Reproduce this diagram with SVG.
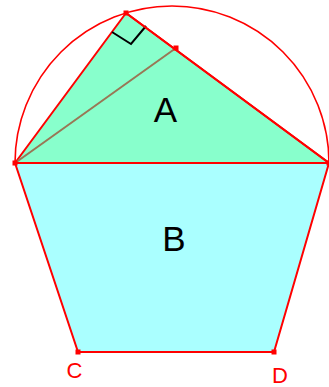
<svg xmlns="http://www.w3.org/2000/svg" width="329" height="387" viewBox="0 0 329 387">
<style>
.edge{stroke:#ff0000;stroke-width:2;fill:none;stroke-linejoin:round}
.fillB{fill:#aaffff;stroke:#ff0000;stroke-width:2;stroke-linejoin:round}
.fillA{fill:#88ffcc;stroke:#ff0000;stroke-width:2;stroke-linejoin:round}
.pt{fill:#ff0000}
.big{font-family:"Liberation Sans",Arial,sans-serif;font-size:35px;fill:#000;text-anchor:middle}
.lbl{font-family:"Liberation Sans",Arial,sans-serif;font-size:22px;fill:#ff0000;text-anchor:middle}
</style>
<g id="B">
<polygon points="15,163 329,163 274,352 78,352" class="fillB"/>
<text class="big" x="174" y="251">B</text>
</g>
<g id="A">
<polygon points="15,163 126,13 329,163" class="fillA"/>
<text class="big" x="165.5" y="122">A</text>
</g>
<g id="connectors">
<path d="M15,163 A157,157 0 0 1 329,163" fill="none" stroke="#ff0000" stroke-width="1.6"/>
<line x1="15" y1="163" x2="176" y2="48" stroke="#997755" stroke-width="2"/>
<polyline points="112,32 131,44 146,26" fill="none" stroke="#000" stroke-width="2"/>
<line x1="126" y1="13" x2="329" y2="163" class="edge"/>
<line x1="15" y1="163" x2="329" y2="163" class="edge"/>
</g>
<g id="points">
<rect class="pt" x="123.5" y="10.5" width="5" height="5"/>
<rect class="pt" x="173.5" y="45.5" width="5" height="5"/>
<rect class="pt" x="12.5" y="160.5" width="5" height="5"/>
<rect class="pt" x="326.5" y="160.5" width="5" height="5"/>
<rect class="pt" x="75.5" y="349.5" width="5" height="5"/>
<rect class="pt" x="271.5" y="349.5" width="5" height="5"/>
</g>
<g id="C"><text class="lbl" x="74.5" y="378">C</text></g>
<g id="D"><text class="lbl" x="280" y="383">D</text></g>
</svg>
